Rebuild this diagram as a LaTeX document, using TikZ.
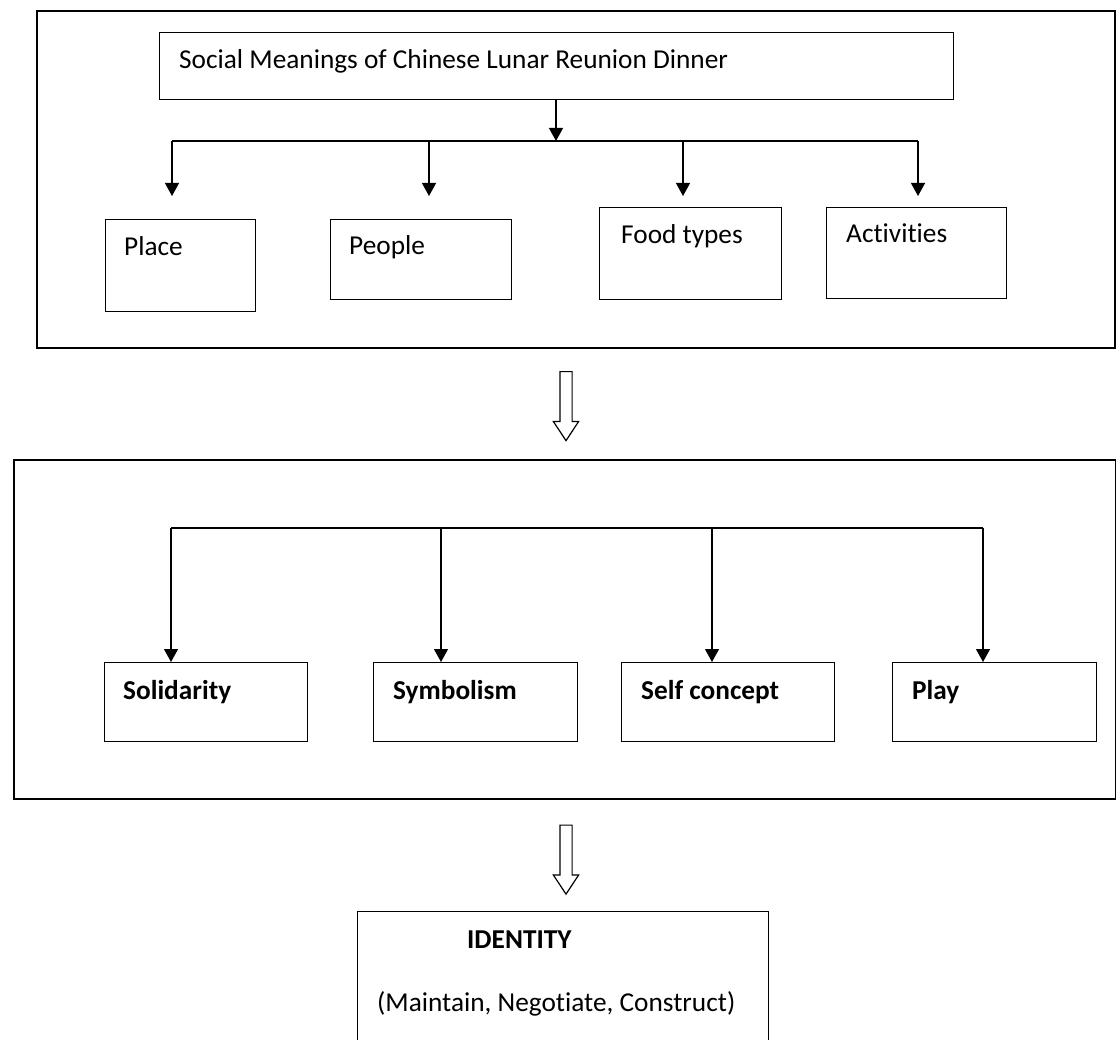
\documentclass[tikz,border=0pt]{standalone}
\usepackage{fontspec}
\setmainfont{Carlito}[Ligatures=NoCommon]
\usetikzlibrary{arrows.meta,positioning,shapes.arrows}
\tikzset{
  frame/.style={draw, line width=1.6pt, anchor=north west, inner sep=0pt},
  box/.style={draw, line width=1.3pt, anchor=north west, inner sep=0pt},
  lbl/.style={anchor=base west, inner sep=0pt, font=\fontsize{27.3}{32}\selectfont},
  blbl/.style={anchor=base west, inner sep=0pt, font=\fontsize{27.3}{32}\selectfont\bfseries},
  link/.style={line width=1.2pt, -{Triangle[width=14pt,length=13pt]}},
  bigdown/.style={draw, line width=1.2pt, single arrow, rotate=-90,
    single arrow head extend=6.5pt, single arrow tip angle=67,
    minimum height=69pt, inner sep=0pt}
}
\begin{document}
\begin{tikzpicture}[x=1pt,y=-1pt]
  \useasboundingbox (0,0) rectangle (1116,1040);

  % Frames
  \node[frame, minimum width=1078pt, minimum height=337pt] (upper) at (36,10) {};
  \node[frame, minimum width=1102pt, minimum height=339pt] (lower) at (13,459) {};

  % Top part
  \node[box, minimum width=794pt, minimum height=67pt] (title) at (159,32) {};
  \node[lbl] (titleT) at (179,69) {Social Meanings of Chinese Lunar Reunion Dinner};

  \node[box, minimum width=150pt, minimum height=92pt] (place) at (105,219) {};
  \node[box, minimum width=181pt, minimum height=80pt] (people) at (330,219) {};
  \node[box, minimum width=182pt, minimum height=92pt] (food) at (599,207) {};
  \node[box, minimum width=180pt, minimum height=91pt] (acts) at (826,207) {};
  \node[lbl] (placeT) at (124,256) {Place};
  \node[lbl] (peopleT) at (349,255) {People};
  \node[lbl] (foodT) at (621,244) {Food types};
  \node[lbl] (actsT) at (846,243) {Activities};

  \coordinate (forkA) at (556,141);
  \coordinate (inPlace) at (172,196);
  \coordinate (inPeople) at (429,196);
  \coordinate (inFood) at (683,196);
  \coordinate (inActs) at (918,196);

  \draw[link] (title.south -| forkA) -- (forkA);
  \draw[line width=1.2pt] (inPlace |- forkA) -- (inActs |- forkA);
  \foreach \t in {inPlace,inPeople,inFood,inActs}
    \draw[link] (\t |- forkA) -- (\t);

  \node[bigdown] (downA) at (566,401.5) {\rule{0pt}{11pt}};

  % Middle part
  \node[box, minimum width=203pt, minimum height=79pt] (sol) at (104,662) {};
  \node[box, minimum width=204pt, minimum height=79pt] (sym) at (373,662) {};
  \node[box, minimum width=213pt, minimum height=79pt] (self) at (621,662) {};
  \node[box, minimum width=204pt, minimum height=79pt] (play) at (892,662) {};
  \node[blbl] (solT) at (123,699) {Solidarity};
  \node[blbl] (symT) at (393,699) {Symbolism};
  \node[blbl] (selfT) at (641,699) {Self concept};
  \node[blbl] (playT) at (912,699) {Play};

  \coordinate (forkB) at (171,528);
  \coordinate (inSol) at (171,662);
  \coordinate (inSym) at (441,662);
  \coordinate (inSelf) at (712,662);
  \coordinate (inPlay) at (983,662);

  \draw[line width=1.2pt] (forkB) -- (inPlay |- forkB);
  \foreach \t in {inSol,inSym,inSelf,inPlay}
    \draw[link] (\t |- forkB) -- (\t);

  \node[bigdown] (downB) at (566,855) {\rule{0pt}{11pt}};

  % Identity
  \node[box, minimum width=411pt, minimum height=140pt] (ident) at (357,911) {};
  \node[blbl] (identT) at (467,948) {IDENTITY};
  \node[lbl] (identS) at (377,1011) {(Maintain, Negotiate, Construct)};
\end{tikzpicture}
\end{document}
